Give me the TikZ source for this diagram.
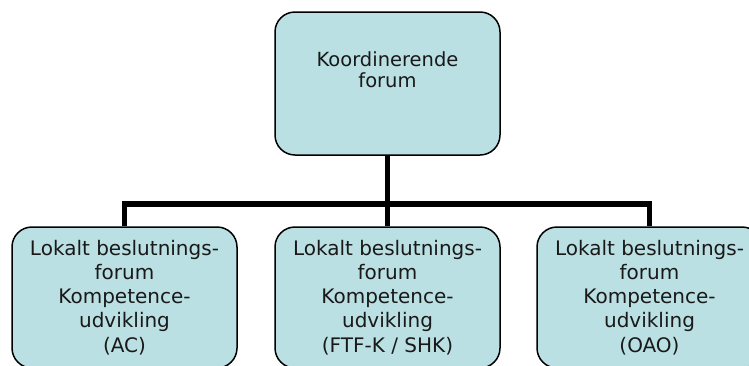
\documentclass[tikz,border=0pt]{standalone}
\usepackage{fontspec}
\setmainfont{DejaVu Sans}
\definecolor{boxfill}{RGB}{187,224,227}
\definecolor{txt}{RGB}{25,25,25}
\begin{document}
\begin{tikzpicture}[x=1pt,y=-1pt,
  orgbox/.style={draw=black, line width=1.5pt, fill=boxfill, rounded corners=20pt,
    minimum width=225pt, align=center, inner sep=0pt, text=txt},
  topbox/.style={orgbox, minimum height=143pt, font=\fontsize{19.5}{21.5}\selectfont},
  lowbox/.style={orgbox, minimum height=141pt, font=\fontsize{20}{24.2}\selectfont},
  conn/.style={draw=black, line width=5.5pt, line join=miter}]
\useasboundingbox (0,0) rectangle (749,365);
\node[topbox] (top) at (387.5,83.5) {Koordinerende\\forum\\\strut};
\node[lowbox] (l) at (124.5,297.5) {Lokalt beslutnings-\\forum\\Kompetence-\\udvikling\\(AC)};
\node[lowbox] (m) at (387.5,297.5) {Lokalt beslutnings-\\forum\\Kompetence-\\udvikling\\(FTF-K / SHK)};
\node[lowbox] (r) at (649.5,297.5) {Lokalt beslutnings-\\forum\\Kompetence-\\udvikling\\(OAO)};
\coordinate (bus) at (387.5,204);
\draw[conn] (top.south) -- (m.north);
\draw[conn] (l.north) |- (bus) -| (r.north);
\end{tikzpicture}
\end{document}
